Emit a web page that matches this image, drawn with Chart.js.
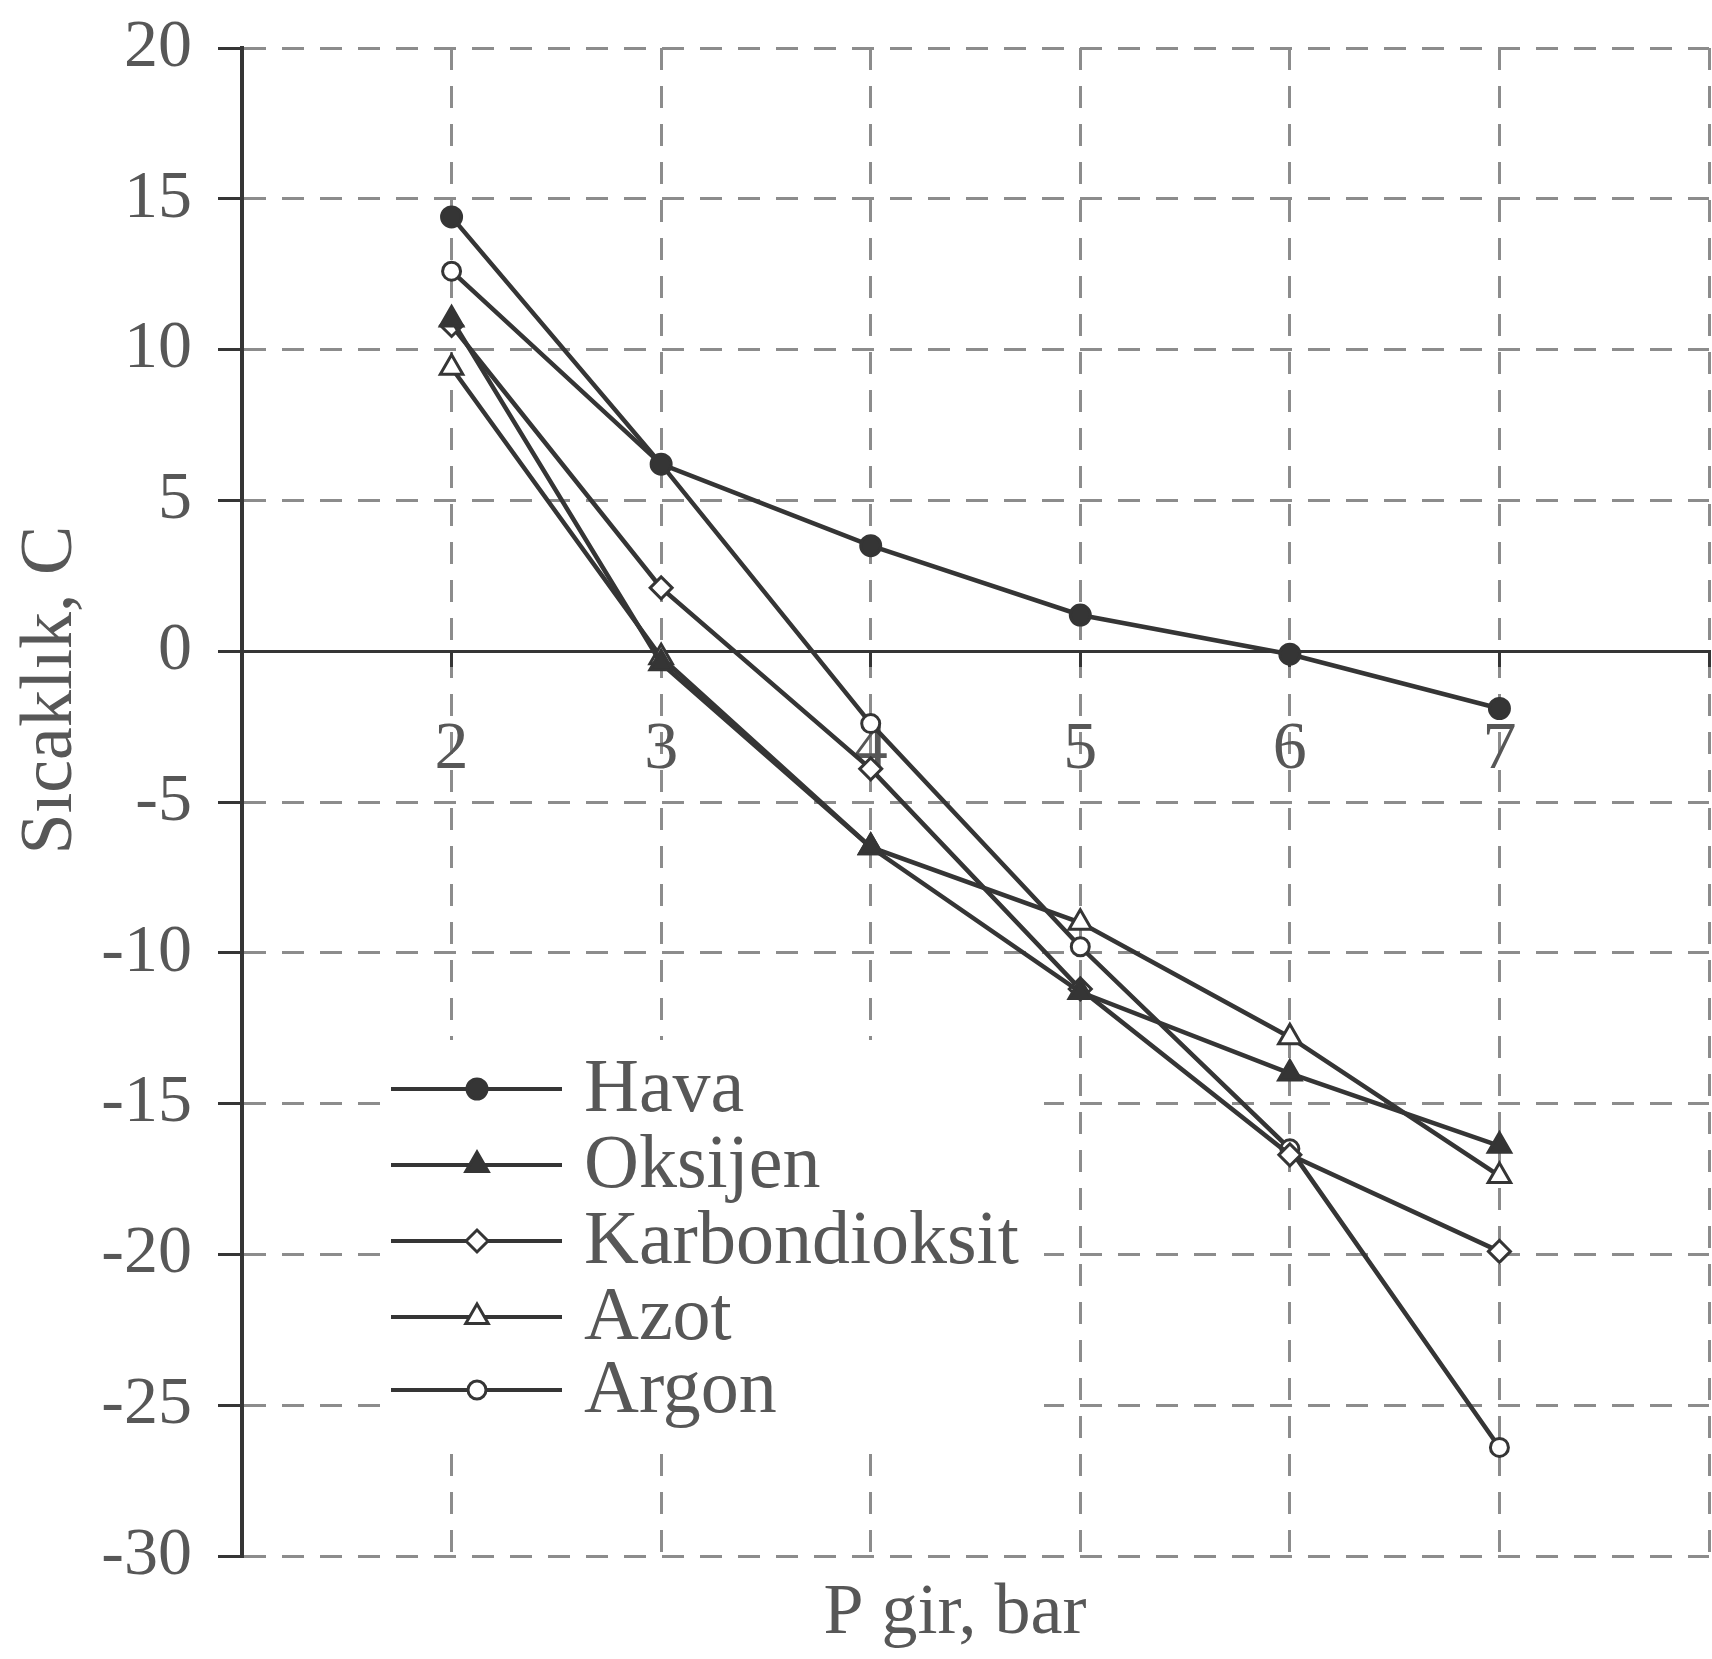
<!DOCTYPE html>
<html>
<head>
<meta charset="utf-8">
<script src="https://cdn.jsdelivr.net/npm/chart.js@4/dist/chart.umd.min.js"></script>
<style>
  html, body { margin: 0; padding: 0; background: #fff; }
</style>
</head>
<body>
<canvas id="myChart" width="1712" height="1659"></canvas>
<script>
// P gir (bar) on x, Sıcaklık (C) on y
const pressures = [2, 3, 4, 5, 6, 7];
const hava = [14.4, 6.2, 3.5, 1.2, -0.1, -1.9];
const oksijen = [11.0, -0.4, -6.5, -11.3, -14.0, -16.4];
const karbondioksit = [10.8, 2.1, -3.9, -11.2, -16.7, -19.9];
const azot = [9.4, -0.2, -6.5, -9.0, -12.8, -17.4];
const argon = [12.6, 6.2, -2.4, -9.8, -16.5, -26.4];

const xTickLabels = [2, 3, 4, 5, 6, 7];
const yTickValues = [20, 15, 10, 5, 0, -5, -10, -15, -20, -25, -30];

const ink = '#353535';
const gridGray = '#8c8c8c';
const textGray = '#575757';
const serif = "'Liberation Serif', 'DejaVu Serif', serif";

const toPoints = arr => arr.map((v, i) => ({ x: pressures[i], y: v }));

const series = [
  { label: 'Hava', data: hava, style: 'circle', r: 10, fill: ink, order: 0 },
  { label: 'Oksijen', data: oksijen, style: 'triangle', r: 13, fill: ink, order: 1 },
  { label: 'Karbondioksit', data: karbondioksit, style: 'rectRot', r: 11, fill: '#fff', order: 2 },
  { label: 'Azot', data: azot, style: 'triangle', r: 13, fill: '#fff', order: 3 },
  { label: 'Argon', data: argon, style: 'circle', r: 9, fill: '#fff', order: 4 },
];

// legend box drawn inside the plot, white background
const legendPlugin = {
  id: 'boxLegend',
  afterDraw(chart) {
    const ctx = chart.ctx;
    ctx.save();
    ctx.fillStyle = '#fff';
    ctx.fillRect(384, 1040, 660, 398);
    const rowY = [1089, 1165, 1241, 1317, 1390];
    series.forEach((s, i) => {
      const y = rowY[i];
      ctx.strokeStyle = ink;
      ctx.lineWidth = 4;
      ctx.beginPath();
      ctx.moveTo(391, y);
      ctx.lineTo(562, y);
      ctx.stroke();
      ctx.fillStyle = s.fill;
      ctx.lineWidth = 3;
      Chart.helpers.drawPoint(ctx, { pointStyle: s.style, radius: s.r, rotation: 0, borderWidth: 3 }, 477, y);
      ctx.fillStyle = textGray;
      ctx.font = '76px ' + serif;
      ctx.textBaseline = 'middle';
      ctx.textAlign = 'left';
      ctx.fillText(s.label, 584, y + 2);
    });
    ctx.restore();
  }
};

// axis titles
const titlePlugin = {
  id: 'titles',
  afterDraw(chart) {
    const ctx = chart.ctx;
    ctx.save();
    ctx.fillStyle = textGray;
    ctx.textAlign = 'center';
    ctx.textBaseline = 'middle';
    ctx.font = '72px ' + serif;
    ctx.fillText('P gir, bar', 955, 1614);
    ctx.translate(52, 690);
    ctx.rotate(-Math.PI / 2);
    ctx.font = '74px ' + serif;
    ctx.fillText('Sıcaklık, C', 0, 0);
    ctx.restore();
  }
};

const ctx = document.getElementById('myChart').getContext('2d');
const myChart = new Chart(ctx, {
  type: 'line',
  data: {
    datasets: series.map(s => ({
      label: s.label,
      data: toPoints(s.data),
      order: s.order,
      borderColor: ink,
      borderWidth: 4.5,
      tension: 0,
      pointStyle: s.style,
      pointRadius: s.r,
      pointBackgroundColor: s.fill,
      pointBorderColor: ink,
      pointBorderWidth: 3,
    })),
  },
  options: {
    responsive: false,
    animation: false,
    layout: { autoPadding: false, padding: { top: 48, right: 3, bottom: 103, left: 0 } },
    plugins: {
      legend: { display: false },
      tooltip: { enabled: false },
    },
    scales: {
      x: {
        type: 'linear',
        position: { y: 0 },
        min: 1,
        max: 8,
        afterFit: s => { s.paddingLeft = 0; s.paddingRight = 0; },
        ticks: {
          stepSize: 1,
          padding: 44,
          color: textGray,
          font: { family: serif, size: 68 },
          callback: v => (xTickLabels.includes(v) ? String(v) : ''),
        },
        grid: {
          color: gridGray,
          lineWidth: 3,
          tickLength: 14,
          tickColor: ink,
          tickWidth: 3,
          tickBorderDash: [],
        },
        border: { display: true, color: ink, width: 3, dash: [22, 16] },
      },
      y: {
        min: -30,
        max: 20,
        afterBuildTicks: s => { s.ticks = yTickValues.map(v => ({ value: v })); },
        afterFit: s => { s.width = 242; s.paddingTop = 0; s.paddingBottom = 0; },
        ticks: {
          padding: 26,
          color: textGray,
          font: { family: serif, size: 68 },
        },
        grid: {
          color: c => (c.tick && c.tick.value === 0 ? 'rgba(0,0,0,0)' : gridGray),
          lineWidth: 3,
          tickLength: 24,
          tickColor: ink,
          tickWidth: 3,
          tickBorderDash: [],
        },
        border: { display: true, color: ink, width: 4, dash: [22, 16] },
      },
    },
  },
  plugins: [legendPlugin, titlePlugin],
});
</script>
</body>
</html>
